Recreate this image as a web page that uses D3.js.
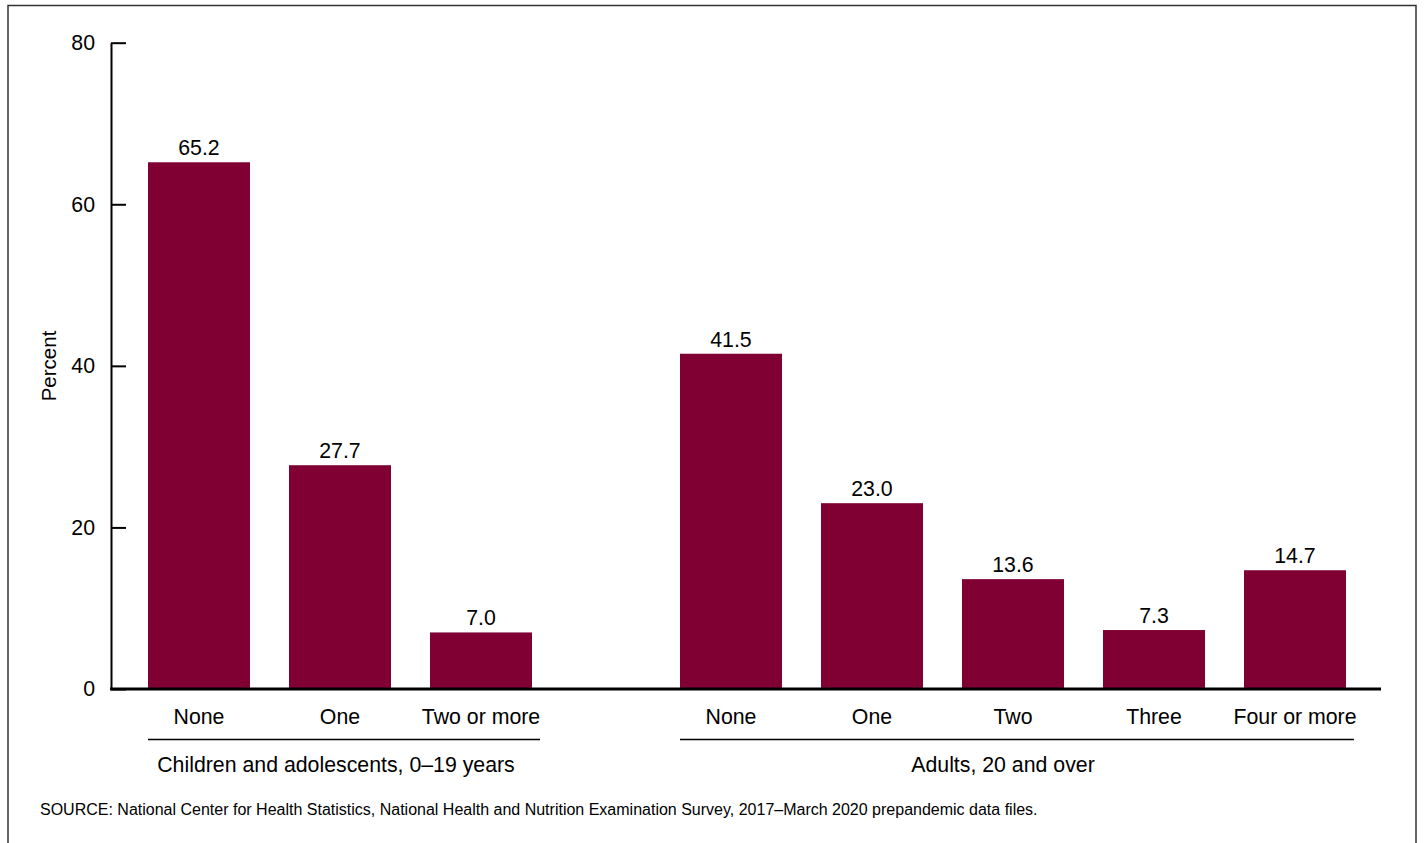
<!DOCTYPE html>
<html>
<head>
<meta charset="utf-8">
<script src="https://cdn.jsdelivr.net/npm/d3@7"></script>
<style>
  html, body { margin: 0; padding: 0; background: #fff; }
  svg { display: block; font-family: "Liberation Sans", Arial, sans-serif; }
</style>
</head>
<body>
<svg id="chart" width="1426" height="843"></svg>
<script>
// Number of chronic conditions, by age group (percent)
const childCategories = ["None", "One", "Two or more"];
const childValues = [65.2, 27.7, 7.0];
const adultCategories = ["None", "One", "Two", "Three", "Four or more"];
const adultValues = [41.5, 23.0, 13.6, 7.3, 14.7];
const groupLabels = ["Children and adolescents, 0\u201319 years", "Adults, 20 and over"];
const yTicks = [0, 20, 40, 60, 80];
const yLabel = "Percent";
const sourceNote = "SOURCE: National Center for Health Statistics, National Health and Nutrition Examination Survey, 2017\u2013March 2020 prepandemic data files.";

const barColor = "#800034";
const fontSize = 21.3;
const svg = d3.select("#chart");

// Outer frame (open at the bottom)
svg.append("path")
  .attr("d", "M8,843V5.5H1416V843")
  .attr("fill", "none").attr("stroke", "#333").attr("stroke-width", 1.5);

const y = d3.scaleLinear().domain([0, 80]).range([689, 42.7]);

const groups = [
  { cats: childCategories, vals: childValues, range: [148, 532], label: groupLabels[0], labelX: 336 },
  { cats: adultCategories, vals: adultValues, range: [680, 1346], label: groupLabels[1], labelX: 1003 }
];

groups.forEach(g => {
  const x = d3.scaleBand().domain(g.cats).range(g.range).paddingInner(0.2766).paddingOuter(0);
  const data = g.cats.map((c, i) => ({ cat: c, val: g.vals[i] }));
  const gg = svg.append("g");

  gg.selectAll("rect").data(data).join("rect")
    .attr("x", d => x(d.cat))
    .attr("width", x.bandwidth())
    .attr("y", d => y(d.val))
    .attr("height", d => y(0) - y(d.val))
    .attr("fill", barColor);

  gg.selectAll("text.val").data(data).join("text")
    .attr("class", "val")
    .attr("x", d => x(d.cat) + x.bandwidth() / 2)
    .attr("y", d => y(d.val) - 7)
    .attr("text-anchor", "middle")
    .attr("font-size", fontSize)
    .text(d => d.val.toFixed(1));

  gg.selectAll("text.cat").data(data).join("text")
    .attr("class", "cat")
    .attr("x", d => x(d.cat) + x.bandwidth() / 2)
    .attr("y", 724)
    .attr("text-anchor", "middle")
    .attr("font-size", fontSize)
    .text(d => d.cat);

  gg.append("line")
    .attr("x1", g.range[0]).attr("x2", g.range[1] + 8)
    .attr("y1", 739.5).attr("y2", 739.5)
    .attr("stroke", "#000").attr("stroke-width", 1.5);

  gg.append("text")
    .attr("x", g.labelX).attr("y", 771.5)
    .attr("text-anchor", "middle")
    .attr("font-size", fontSize)
    .text(g.label);
});

// Y axis with inward ticks
const yAxis = d3.axisLeft(y).tickValues(yTicks).tickSizeInner(-15).tickSizeOuter(0).tickPadding(16);
const ya = svg.append("g").attr("transform", "translate(111,0)").call(yAxis);
ya.select(".domain").attr("stroke", "#000").attr("stroke-width", 2);
ya.selectAll(".tick line").attr("stroke", "#000").attr("stroke-width", 2);
ya.selectAll(".tick text").attr("font-size", fontSize).attr("fill", "#000")
  .attr("font-family", "'Liberation Sans', Arial, sans-serif");

// Baseline
svg.append("line")
  .attr("x1", 110).attr("x2", 1381)
  .attr("y1", y(0)).attr("y2", y(0))
  .attr("stroke", "#000").attr("stroke-width", 3);

svg.append("text")
  .attr("transform", "translate(56,366) rotate(-90)")
  .attr("text-anchor", "middle")
  .attr("font-size", 20.5)
  .text(yLabel);

svg.append("text")
  .attr("x", 40).attr("y", 815)
  .attr("font-size", 16)
  .text(sourceNote);
</script>
</body>
</html>
